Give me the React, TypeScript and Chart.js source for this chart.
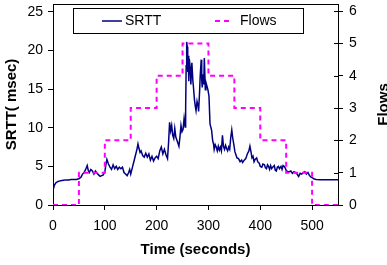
import React, { useEffect, useRef } from "react";
import { Chart, registerables } from "chart.js";

Chart.register(...registerables);

const srttTime = [
  0, 3, 6, 10, 15, 20, 25, 30, 35, 40, 45, 50, 54, 57, 60, 63, 66, 68, 70, 73, 76, 79, 82, 85, 88, 91, 94, 97,
  100, 102, 104, 107, 110, 113, 116, 119, 122, 125, 128, 131, 134, 137, 140, 143, 146, 148, 150, 153, 156, 159,
  162, 164, 166, 168, 170, 173, 176, 179, 182, 185, 188, 191, 194, 197, 200, 203, 206, 209, 212, 215, 218, 221,
  223, 225, 227, 229, 231, 233, 235, 237, 240, 243, 245, 247, 249, 251, 253, 255, 256, 257, 258, 259, 260, 261,
  262, 263, 265, 266, 268, 270, 271, 273, 275, 276, 278, 280, 281, 283, 284, 286, 287, 288, 290, 291, 292, 294,
  295, 297, 299, 301, 303, 306, 308, 310, 311, 313, 315, 317, 319, 321, 323, 325, 327, 329, 331, 333, 335, 337,
  339, 341, 343, 345, 347, 349, 351, 353, 355, 358, 361, 364, 366, 369, 372, 375, 378, 380, 382, 384, 386, 388,
  390, 393, 395, 398, 400, 403, 405, 408, 410, 412, 414, 416, 418, 420, 422, 424, 427, 429, 431, 433, 435, 437,
  440, 442, 444, 446, 448, 450, 453, 456, 459, 462, 465, 468, 471, 474, 477, 480, 483, 486, 489, 492, 495, 498,
  501, 504, 508, 515, 530, 550,
];
const srttValues = [
  1.9, 2.6, 2.9, 3.05, 3.15, 3.2, 3.25, 3.25, 3.3, 3.3, 3.3, 3.4, 3.6, 4.0, 4.2, 4.6, 5.1, 4.5, 4.2, 4.6, 4.4, 4.0,
  4.4, 4.1, 3.9, 3.7, 3.8, 3.9, 4.3, 5.2, 5.9, 5.3, 4.9, 4.6, 5.2, 4.7, 5.0, 4.6, 4.9, 4.7, 4.9, 4.2, 4.0, 3.8,
  4.2, 4.6, 4.0, 4.8, 5.6, 6.4, 7.2, 7.9, 7.3, 6.8, 7.0, 6.4, 6.2, 6.7, 6.2, 6.6, 5.8, 6.3, 5.7, 6.1, 6.3, 6.0,
  7.0, 7.5, 6.6, 7.2, 6.5, 6.0, 8.0, 10.7, 9.6, 10.3, 9.0, 8.6, 9.9, 8.8, 8.2, 7.6, 8.8, 10.3, 9.5, 9.8, 11.2,
  10.1, 12.5, 18.0, 21.1, 20.5, 17.2, 19.3, 16.0, 18.9, 17.6, 15.6, 18.4, 16.0, 15.3, 13.6, 12.6, 12.2, 13.4,
  12.8, 12.1, 14.8, 16.6, 18.8, 16.2, 15.2, 16.9, 15.6, 19.0, 14.9, 15.9, 15.4, 14.9, 14.1, 10.5, 9.7, 8.4, 7.8,
  7.2, 7.8, 7.5, 7.0, 7.6, 7.1, 7.5, 7.0, 9.0, 7.6, 7.2, 7.7, 7.3, 7.0, 7.5, 7.2, 8.7, 9.7, 8.6, 7.8, 6.9, 6.5,
  6.1, 6.0, 5.6, 5.8, 5.5, 5.8, 6.0, 6.6, 7.0, 7.6, 6.9, 6.1, 6.3, 5.6, 5.9, 6.1, 5.6, 5.4, 5.0, 4.9, 5.3, 5.2,
  4.8, 4.7, 5.2, 5.0, 4.6, 5.1, 4.7, 4.9, 5.1, 4.5, 4.4, 4.9, 5.0, 4.7, 5.0, 4.6, 5.1, 5.0, 4.8, 4.5, 4.3, 4.3,
  4.4, 4.1, 4.3, 4.2, 4.0, 3.7, 4.1, 4.0, 4.2, 4.3, 4.0, 4.2, 3.8, 3.6, 3.5, 3.35, 3.3, 3.27, 3.27, 3.27,
];

const flowTime = [0, 50, 100, 150, 200, 250, 300, 350, 400, 450, 500, 550];
const flowValues = [0, 1, 2, 3, 4, 5, 4, 3, 2, 1, 0, 0];

const xTicks = [0, 100, 200, 300, 400, 500];
const srttTicks = [0, 5, 10, 15, 20, 25];
const flowTicks = [0, 1, 2, 3, 4, 5, 6];

const FONT = "'Liberation Sans', Arial, sans-serif";
const NAVY = "#000080";
const MAGENTA = "#FF00FF";

const keepTicks = (list: number[]) => (scale: any) => {
  scale.ticks = list.map((v) => ({ value: v }));
};

const decorPlugin = {
  id: "decor",
  afterDraw(chart: any) {
    const { ctx, chartArea } = chart;
    const { left, right, top } = chartArea;
    ctx.save();
    // top border of plot box
    ctx.strokeStyle = "#000";
    ctx.lineWidth = 1;
    ctx.beginPath();
    ctx.moveTo(left, top + 0.5);
    ctx.lineTo(right, top + 0.5);
    ctx.stroke();
    // inner parts of right-axis ticks
    const y1 = chart.scales.y1;
    ctx.beginPath();
    for (const t of y1.ticks) {
      const py = Math.round(y1.getPixelForValue(t.value)) + 0.5;
      ctx.moveTo(right - 4, py);
      ctx.lineTo(right, py);
    }
    ctx.stroke();

    // legend box
    const bx = 73.5, by = 8.5, bw = 230, bh = 25;
    ctx.fillStyle = "#fff";
    ctx.fillRect(bx, by, bw, bh);
    ctx.strokeStyle = "#000";
    ctx.strokeRect(bx, by, bw, bh);
    const ly = 21;
    ctx.strokeStyle = NAVY;
    ctx.lineWidth = 1.5;
    ctx.beginPath();
    ctx.moveTo(102, ly);
    ctx.lineTo(122, ly);
    ctx.stroke();
    ctx.strokeStyle = MAGENTA;
    ctx.lineWidth = 2;
    ctx.setLineDash([5, 4]);
    ctx.beginPath();
    ctx.moveTo(215, ly);
    ctx.lineTo(233, ly);
    ctx.stroke();
    ctx.setLineDash([]);
    ctx.fillStyle = "#000";
    ctx.font = `14px ${FONT}`;
    ctx.textBaseline = "middle";
    ctx.textAlign = "left";
    ctx.fillText("SRTT", 125, ly + 0.5);
    ctx.fillText("Flows", 240, ly + 0.5);

    // right axis title, reading bottom-to-top
    ctx.save();
    ctx.translate(388, (chartArea.top + chartArea.bottom) / 2);
    ctx.rotate(-Math.PI / 2);
    ctx.font = `bold 15px ${FONT}`;
    ctx.textAlign = "center";
    ctx.textBaseline = "alphabetic";
    ctx.fillText("Flows", 0, 0);
    ctx.restore();
    ctx.restore();
  },
};

export default function App() {
  const ref = useRef<HTMLCanvasElement | null>(null);

  useEffect(() => {
    if (!ref.current) return;
    const tickFont = { family: FONT, size: 14 };
    const titleFont = { family: FONT, size: 15, weight: "bold" as const };
    const chart = new Chart(ref.current, {
      type: "line",
      data: {
        datasets: [
          {
            label: "SRTT",
            data: srttTime.map((t, i) => ({ x: t, y: srttValues[i] })),
            borderColor: NAVY,
            borderWidth: 1.5,
            pointRadius: 0,
            tension: 0,
            yAxisID: "y",
            order: 2,
          },
          {
            label: "Flows",
            data: flowTime.map((t, i) => ({ x: t, y: flowValues[i] })),
            borderColor: MAGENTA,
            borderWidth: 2,
            borderDash: [5, 4],
            pointRadius: 0,
            stepped: "before",
            yAxisID: "y1",
            order: 1,
          },
        ],
      },
      options: {
        animation: false,
        responsive: false,
        devicePixelRatio: 1,
        layout: { padding: { top: 4, left: 0, right: 0, bottom: 0 } },
        plugins: { legend: { display: false }, tooltip: { enabled: false } },
        scales: {
          x: {
            type: "linear",
            min: 0,
            max: 550,
            afterBuildTicks: keepTicks(xTicks),
            afterFit: (s: any) => {
              s.height = 60;
              s.paddingLeft = 0;
              s.paddingRight = 0;
            },
            grid: { drawOnChartArea: false, color: "#000", tickLength: 5 },
            border: { color: "#000", width: 1 },
            ticks: { font: tickFont, color: "#000", padding: 8, maxRotation: 0 },
            title: {
              display: true,
              text: "Time (seconds)",
              font: titleFont,
              color: "#000",
              padding: { top: 0, bottom: 6 },
            },
          },
          y: {
            type: "linear",
            position: "left",
            min: 0,
            max: 26,
            afterBuildTicks: keepTicks(srttTicks),
            afterFit: (s: any) => {
              s.width = 53;
              s.paddingTop = 0;
              s.paddingBottom = 0;
            },
            grid: { drawOnChartArea: false, color: "#000", tickLength: 5 },
            border: { color: "#000", width: 1 },
            ticks: { font: tickFont, color: "#000", padding: 5 },
            title: {
              display: true,
              text: "SRTT( msec)",
              font: titleFont,
              color: "#000",
              padding: { top: 3, bottom: 0 },
            },
          },
          y1: {
            type: "linear",
            position: "right",
            min: 0,
            max: 6.22,
            afterBuildTicks: keepTicks(flowTicks),
            afterFit: (s: any) => {
              s.width = 49;
              s.paddingTop = 0;
              s.paddingBottom = 0;
            },
            grid: { drawOnChartArea: false, color: "#000", tickLength: 5 },
            border: { color: "#000", width: 1 },
            ticks: { font: tickFont, color: "#000", padding: 6 },
          },
        },
      },
      plugins: [decorPlugin],
    });
    return () => chart.destroy();
  }, []);

  return (
    <div style={{ position: "fixed", left: 0, top: 0, width: 387, height: 265, background: "#fff" }}>
      <canvas ref={ref} width={387} height={265} />
    </div>
  );
}
